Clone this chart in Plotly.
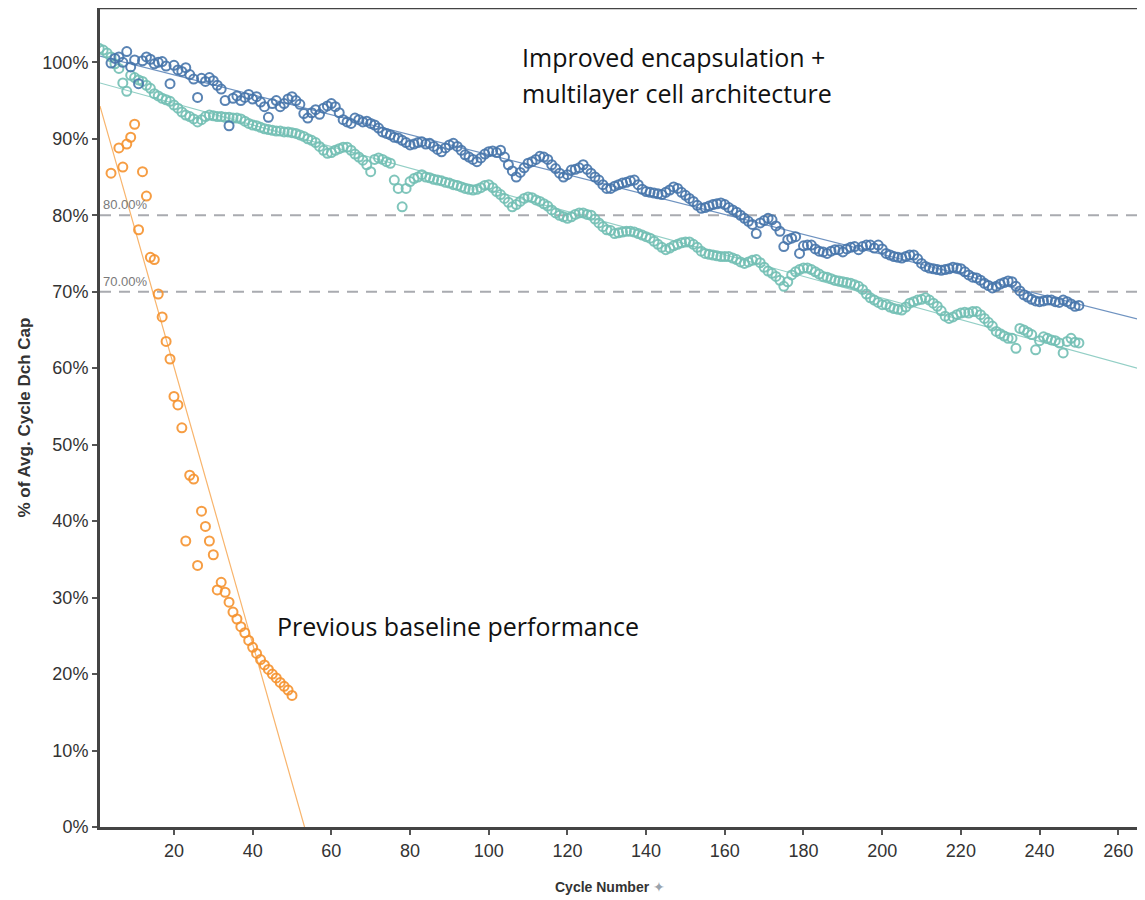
import numpy as np
import plotly.graph_objects as go

# ---------------- data ----------------
orange_cycles = [4, 6, 7, 8, 9, 10, 11, 12, 13, 14, 15, 16, 17, 18, 19, 20, 21, 22, 23, 24,
                 25, 26, 27, 28, 29, 30, 31, 32, 33, 34, 35, 36, 37, 38, 39, 40, 41, 42, 43,
                 44, 45, 46, 47, 48, 49, 50]
orange_vals = [85.5, 88.8, 86.3, 89.3, 90.2, 91.9, 78.1, 85.7, 82.5, 74.5, 74.2, 69.7, 66.7,
               63.5, 61.2, 56.3, 55.2, 52.2, 37.4, 46.0, 45.5, 34.2, 41.3, 39.3, 37.4, 35.6,
               31.0, 32.0, 30.7, 29.4, 28.1, 27.2, 26.2, 25.4, 24.4, 23.5, 22.7, 21.9, 21.2,
               20.6, 20.0, 19.5, 18.9, 18.4, 17.9, 17.2]

blue_cycles = list(range(4, 251))
blue_vals = [
    99.9, 100.5, 100.7, 100.0, 101.4, 99.4, 100.3,                      # 4-10
    97.2, 100.2, 100.7, 100.4, 99.8, 100.0, 100.1, 99.5, 97.2, 99.6,    # 11-20
    99.0, 98.8, 99.3, 98.4, 97.8, 95.4, 97.9, 97.5, 98.0, 97.6,         # 21-30
    97.0, 96.5, 95.0, 91.7, 95.3, 95.6, 95.0, 95.4, 95.8, 95.2,         # 31-40
    95.5, 94.8, 94.2, 92.8, 94.6, 95.0, 94.2, 94.6, 95.2, 95.5,         # 41-50
    95.0, 94.5, 93.3, 92.7, 93.4, 93.8, 93.2, 94.0, 94.3, 94.6,         # 51-60
    94.2, 93.4, 92.5, 92.2, 92.0, 92.7, 92.5, 92.2, 92.3, 92.0,         # 61-70
    91.8, 91.4, 90.9, 90.7, 90.5, 90.2, 90.1, 89.8, 89.5, 89.2,         # 71-80
    89.3, 89.5, 89.6, 89.3, 89.4, 89.0, 88.6, 88.3, 88.8, 89.2,         # 81-90
    89.4, 89.0, 88.5, 87.9, 87.6, 87.3, 87.0, 87.5, 88.0, 88.3,         # 91-100
    88.4, 88.2, 88.5, 87.6, 86.6, 85.8, 85.0, 85.6, 86.2, 86.8,         # 101-110
    87.0, 87.3, 87.7, 87.6, 87.3, 86.6, 86.1, 85.5, 85.0, 85.3,         # 111-120
    85.9, 86.0, 86.2, 86.6, 86.0, 85.5, 85.0, 84.6, 84.0, 83.5,         # 121-130
    83.5, 83.8, 84.0, 84.2, 84.3, 84.5, 84.6, 84.0, 83.4, 83.1,         # 131-140
    83.0, 82.9, 82.8, 82.7, 83.0, 83.3, 83.7, 83.5, 83.0, 82.6,         # 141-150
    82.2, 81.8, 81.3, 80.9, 81.0, 81.2, 81.4, 81.5, 81.6, 81.4,         # 151-160
    81.0, 80.7, 80.4, 80.0, 79.6, 79.2, 78.8, 77.6, 79.0, 79.3,         # 161-170
    79.6, 79.4, 78.6, 77.9, 75.9, 76.8, 77.0, 77.2, 75.0, 76.0,         # 171-180
    76.1, 76.1, 75.6, 75.3, 75.2, 75.0, 75.3, 75.5, 75.5, 75.2,         # 181-190
    75.6, 75.8, 75.9, 75.5, 75.9, 76.1, 76.1, 75.7, 76.1, 75.6,         # 191-200
    75.0, 74.8, 74.6, 74.5, 74.4, 74.6, 74.8, 74.8, 74.3, 73.7,         # 201-210
    73.3, 73.1, 73.0, 72.9, 72.8, 72.9, 73.0, 73.2, 73.1, 73.0,         # 211-220
    72.6, 72.2, 71.9, 71.8, 71.5, 71.1, 70.8, 70.5, 70.7, 71.0,         # 221-230
    71.2, 71.4, 71.3, 70.7, 70.1, 69.6, 69.3, 69.0, 68.8, 68.7,         # 231-240
    68.8, 68.9, 68.9, 68.7, 68.6, 68.9, 68.7, 68.4, 68.1, 68.2,         # 241-250
]

teal_cycles = list(range(1, 251))
teal_vals = [
    101.8, 101.6, 101.2, 100.7, 99.8, 99.2, 97.3, 96.2, 98.3, 98.0,    # 1-10
    97.7, 97.5, 97.0, 96.6, 95.9, 95.6, 95.3, 95.1, 94.9, 94.4,        # 11-20
    94.0, 93.5, 93.1, 92.9, 92.6, 92.2, 92.5, 92.9, 93.1, 93.0,        # 21-30
    92.9, 92.9, 92.8, 92.8, 92.7, 92.7, 92.6, 92.3, 92.0, 91.8,        # 31-40
    91.7, 91.5, 91.3, 91.2, 91.1, 91.0, 91.0, 90.9, 90.9, 90.8,        # 41-50
    90.7, 90.5, 90.3, 90.0, 89.8, 89.5, 89.0, 88.5, 88.1, 88.2,        # 51-60
    88.5, 88.7, 88.9, 88.9, 88.5, 88.0, 87.6, 87.2, 86.6, 85.7,        # 61-70
    87.3, 87.5, 87.3, 87.0, 86.8, 84.6, 83.5, 81.1, 83.5, 84.4,        # 71-80
    84.8, 85.0, 85.3, 85.0, 84.9, 84.7, 84.6, 84.5, 84.3, 84.2,        # 81-90
    84.0, 83.9, 83.7, 83.5, 83.4, 83.3, 83.4, 83.6, 83.9, 84.0,        # 91-100
    83.6, 83.1, 82.7, 82.2, 81.7, 81.1, 81.4, 81.8, 82.2, 82.4,        # 101-110
    82.3, 82.0, 81.8, 81.5, 81.2, 80.7, 80.3, 80.0, 79.8, 79.6,        # 111-120
    79.8, 80.1, 80.3, 80.3, 80.1, 80.0, 79.5, 79.0, 78.5, 78.1,        # 121-130
    78.0, 77.6, 77.7, 77.8, 77.9, 77.9, 77.8, 77.6, 77.4, 77.2,        # 131-140
    77.0, 76.6, 76.2, 75.8, 75.5, 75.7, 76.0, 76.2, 76.4, 76.5,        # 141-150
    76.5, 76.2, 75.8, 75.3, 75.0, 74.9, 74.8, 74.7, 74.6, 74.6,        # 151-160
    74.6, 74.4, 74.2, 73.9, 73.7, 73.9, 74.1, 74.2, 73.8, 73.2,        # 161-170
    72.7, 72.4, 72.0, 71.5, 70.7, 71.3, 72.2, 72.6, 72.9, 73.1,        # 171-180
    73.1, 72.9, 72.6, 72.3, 72.0, 71.9, 71.7, 71.5, 71.4, 71.3,        # 181-190
    71.2, 71.1, 70.9, 70.7, 70.3, 69.7, 69.2, 68.9, 68.6, 68.3,        # 191-200
    68.3, 68.0, 67.8, 67.7, 67.6, 68.0, 68.5, 68.7, 68.9, 69.0,        # 201-210
    69.2, 68.9, 68.5, 68.1, 67.5, 66.8, 66.5, 66.7, 67.0, 67.2,        # 211-220
    67.3, 67.2, 67.4, 67.4, 67.0, 66.5, 66.0, 65.5, 64.8, 64.5,        # 221-230
    64.2, 63.9, 63.9, 62.6, 65.2, 65.0, 64.7, 64.4, 62.4, 63.6,        # 231-240
    64.1, 63.9, 63.7, 63.6, 63.3, 62.0, 63.5, 63.9, 63.4, 63.3,        # 241-250
]

ref_levels = [80, 70]
ref_labels = ["80.00%", "70.00%"]
x_ticks = [20, 40, 60, 80, 100, 120, 140, 160, 180, 200, 220, 240, 260]
y_ticks = [0, 10, 20, 30, 40, 50, 60, 70, 80, 90, 100]
y_ticktext = ["0%", "10%", "20%", "30%", "40%", "50%", "60%", "70%", "80%", "90%", "100%"]

# ---------------- styling ----------------
BLUE = "#4775ab"
TEAL = "#72bfb4"
ORANGE = "#f5922f"
X_RANGE = [1.2, 266.8]
Y_RANGE = [0, 107.1]
TICK_FONT = dict(family="Liberation Sans, Arial", size=18, color="#333")

fig = go.Figure()

# trend lines (linear fits of each series, spanning the axis)
def add_trend(xs, ys, color):
    k, b = np.polyfit(xs, ys, 1)
    xx = np.array(X_RANGE)
    fig.add_trace(go.Scatter(x=xx, y=k * xx + b, mode="lines",
                             line=dict(color=color, width=1.2),
                             hoverinfo="skip", showlegend=False))

add_trend(blue_cycles, blue_vals, "#6f93c0")
add_trend(teal_cycles, teal_vals, "#93cfc6")
add_trend(orange_cycles, orange_vals, "#f8b46c")

for xs, ys, col in [(teal_cycles, teal_vals, TEAL),
                    (blue_cycles, blue_vals, BLUE),
                    (orange_cycles, orange_vals, ORANGE)]:
    fig.add_trace(go.Scatter(
        x=xs, y=ys, mode="markers",
        marker=dict(symbol="circle-open", size=9, color=col,
                    line=dict(width=2, color=col), opacity=0.9),
        showlegend=False))

# reference lines
for lvl, lab in zip(ref_levels, ref_labels):
    fig.add_shape(type="line", xref="paper", x0=0, x1=1, yref="y", y0=lvl, y1=lvl,
                  line=dict(color="#a9abb0", width=2, dash="11px,8px"), layer="below")
    fig.add_annotation(x=X_RANGE[0], y=lvl, xref="x", yref="y", text=lab,
                       showarrow=False, xanchor="left", yanchor="bottom", xshift=1, yshift=1,
                       font=dict(family="Liberation Sans, Arial", size=13, color="#7a7a7a"))

# top border line
fig.add_shape(type="line", xref="paper", yref="paper", x0=0, x1=1, y0=1, y1=1,
              line=dict(color="#444", width=2.5))

# text annotations
ann_font = dict(family="Open Sans, Noto Sans, sans-serif", size=25, color="#111")
fig.add_annotation(x=107.9, y=100.7, text="Improved encapsulation +", showarrow=False,
                   xanchor="left", yanchor="middle", font=ann_font)
fig.add_annotation(x=107.9, y=96.0, text="multilayer cell architecture", showarrow=False,
                   xanchor="left", yanchor="middle", font=ann_font)
fig.add_annotation(x=45.6, y=26.3, text="Previous baseline performance", showarrow=False,
                   xanchor="left", yanchor="middle", font=ann_font)

# axis titles
fig.add_annotation(xref="paper", yref="paper", x=0, y=0.5, xshift=-76, textangle=-90,
                   text="<b>% of Avg. Cycle Dch Cap</b>", showarrow=False,
                   xanchor="center", yanchor="middle",
                   font=dict(family="Liberation Sans, Arial", size=17, color="#333"))
fig.add_annotation(xref="x", yref="paper", x=130.7, y=0, yshift=-60,
                   text="<b>Cycle Number</b> <span style='color:#9aa3ad'>✦</span>",
                   showarrow=False, xanchor="center", yanchor="middle",
                   font=dict(family="Liberation Sans, Arial", size=14, color="#333"))

# the page body adds an 8px offset, so the figure is 8px smaller and margins compensate
fig.update_layout(
    width=1137, height=892,
    margin=dict(l=92, r=0, t=0, b=73),
    paper_bgcolor="white", plot_bgcolor="white",
    xaxis=dict(range=X_RANGE, tickvals=x_ticks, showgrid=False, zeroline=False,
               showline=True, linecolor="#444", linewidth=3,
               ticks="outside", ticklen=5, tickcolor="#555", tickwidth=1.5,
               tickfont=TICK_FONT, automargin=False),
    yaxis=dict(range=Y_RANGE, tickvals=y_ticks, ticktext=y_ticktext, showgrid=False,
               zeroline=False, showline=True, linecolor="#444", linewidth=3,
               ticks="outside", ticklen=5, tickcolor="#555", tickwidth=1.5,
               tickfont=TICK_FONT, automargin=False),
)

fig.write_html("out.html")
